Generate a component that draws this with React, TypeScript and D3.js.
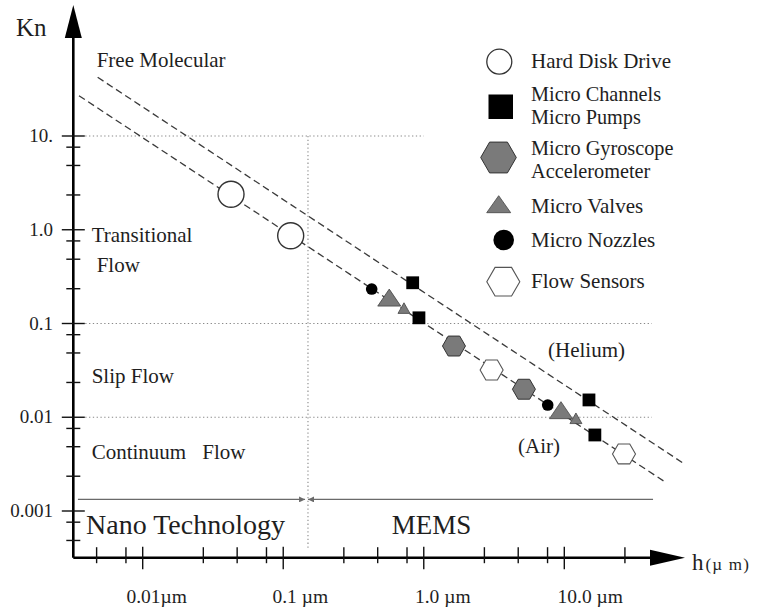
import React from "react";
import * as d3 from "d3";

// ---------- data (h in µm, Kn) ----------
const hardDiskDrive: [number, number][] = [[0.0425, 2.39], [0.113, 0.864]];
const microChannelsPumps: [number, number][] = [[0.834, 0.272], [0.924, 0.115], [14.98, 0.0153], [16.5, 0.00647]];
const microGyroscope: [number, number][] = [[1.64, 0.0575], [5.16, 0.0199]];
const microValvesLarge: [number, number][] = [[0.568, 0.189], [9.47, 0.0119]];
const microValvesSmall: [number, number][] = [[0.723, 0.146], [12.1, 0.00975]];
const microNozzles: [number, number][] = [[0.426, 0.233], [7.62, 0.0135]];
const flowSensors: [number, number][] = [[3.04, 0.0319], [26.6, 0.00406]];

const heliumLine: [number, number][] = [[0.00478, 42.3], [69.9, 0.00325]];
const airLine: [number, number][] = [[0.00352, 26.9], [52.9, 0.00201]];

const xMajorTicks = [0.01, 0.1, 1, 10];
const xTickLabels = ["0.01\u00b5m", "0.1\u00a0\u00b5m", "1.0\u00a0\u00b5m", "10.0\u00a0\u00b5m"];
const xMinorTicks = [0.0047, 0.0076, 0.027, 0.047, 0.076, 0.27, 0.47, 0.76, 2.7, 4.7, 7.6, 27];
const yMajorTicks = [0.001, 0.01, 0.1, 1, 10];
const yTickLabels = ["0.001", "0.01", "0.1", "1.0", "10."];
const yMinorTicks = [0.000485, 0.00076, 0.00235, 0.00485, 0.0076, 0.0235, 0.0485, 0.076, 0.235, 0.485, 0.76, 2.35, 4.85, 7.6];

const gridRows = [
  { kn: 10, from: 0.0039, to: 1 },
  { kn: 0.1, from: 0.0039, to: 42 },
  { kn: 0.01, from: 0.0039, to: 42 },
];
const boundaryH = 0.15; // nano / MEMS boundary
const boundaryKn = [10, 0.000384];
const rangeArrowKn = 0.00133;
const nanoRange = [0.00346, 0.143];
const memsRange = [0.15, 42.8];

const legendItems = ["Hard Disk Drive", "Micro Channels|Micro Pumps", "Micro Gyroscope|Accelerometer", "Micro Valves", "Micro Nozzles", "Flow Sensors"];

// ---------- layout ----------
const W = 764, H = 611;
const x = d3.scaleLog().domain([0.01, 10]).range([142.7, 564.3]);
const y = d3.scaleLog().domain([0.001, 10]).range([511, 136]);
const ORIGIN = { x: 73.3, y: 557.7 };
const X_TIP = 685, Y_TIP = 5;
const FONT = "'Liberation Serif', 'Times New Roman', serif";
const INK = "#1e1e1e";
const GRAY = "#7a7a7a";
const xLabelDx = [14, 17, 19, 26];

const hexPath = (r: number) => {
  const pts = d3.range(6).map(i => [r * Math.cos((Math.PI / 3) * i), r * Math.sin((Math.PI / 3) * i)]);
  return "M" + pts.map(p => p.join(",")).join("L") + "Z";
};
const triPath = (w: number, h: number) => `M0,${-h / 2}L${w / 2},${h / 2}L${-w / 2},${h / 2}Z`;

const lineGen = d3.line<[number, number]>().x(d => x(d[0])).y(d => y(d[1]));

export default function App() {
  const pt = (d: [number, number]) => `translate(${x(d[0])},${y(d[1])})`;
  return (
    <svg width={W} height={H} style={{ position: "absolute", left: 0, top: 0, background: "#fff" }} fontFamily={FONT}>
      {/* grid */}
      {gridRows.map((g, i) => (
        <line key={"g" + i} x1={x(g.from)} x2={x(g.to)} y1={y(g.kn)} y2={y(g.kn)} stroke="#888" strokeWidth={1.1} strokeDasharray="1.3,2.5" />
      ))}
      <line x1={x(boundaryH)} x2={x(boundaryH)} y1={y(boundaryKn[0])} y2={y(boundaryKn[1])} stroke="#888" strokeWidth={1.1} strokeDasharray="1.3,2.5" />

      {/* dashed mean free path lines */}
      <path d={lineGen(heliumLine) || ""} stroke="#3a3a3a" strokeWidth={1.3} strokeDasharray="7,4" fill="none" />
      <path d={lineGen(airLine) || ""} stroke="#3a3a3a" strokeWidth={1.3} strokeDasharray="7,4" fill="none" />

      {/* axes */}
      <line x1={ORIGIN.x} x2={ORIGIN.x} y1={ORIGIN.y} y2={Y_TIP + 30} stroke="#000" strokeWidth={2.6} />
      <path d={`M${ORIGIN.x},${Y_TIP}L${ORIGIN.x + 8.5},${Y_TIP + 33}L${ORIGIN.x - 8.5},${Y_TIP + 33}Z`} fill="#000" />
      <line x1={ORIGIN.x} x2={X_TIP - 30} y1={ORIGIN.y} y2={ORIGIN.y} stroke="#000" strokeWidth={2.6} />
      <path d={`M${X_TIP},${ORIGIN.y}L${X_TIP - 35},${ORIGIN.y - 8}L${X_TIP - 35},${ORIGIN.y + 8}Z`} fill="#000" />

      {xMajorTicks.map((t, i) => (
        <g key={"xm" + i}>
          <line x1={x(t)} x2={x(t)} y1={ORIGIN.y - 11} y2={ORIGIN.y + 11.5} stroke="#111" strokeWidth={1.4} />
          <text x={x(t) + xLabelDx[i]} y={603} textAnchor="middle" fontSize={19.5} fill={INK}>{xTickLabels[i]}</text>
        </g>
      ))}
      {xMinorTicks.map((t, i) => (
        <line key={"xn" + i} x1={x(t)} x2={x(t)} y1={ORIGIN.y - 10.5} y2={ORIGIN.y + 5.5} stroke="#111" strokeWidth={1.4} />
      ))}
      {yMajorTicks.map((t, i) => (
        <g key={"ym" + i}>
          <line x1={ORIGIN.x - 11.5} x2={ORIGIN.x + 11.5} y1={y(t)} y2={y(t)} stroke="#111" strokeWidth={1.4} />
          <text x={53} y={y(t) + 6} textAnchor="end" fontSize={19} fill={INK}>{yTickLabels[i]}</text>
        </g>
      ))}
      {yMinorTicks.map((t, i) => (
        <line key={"yn" + i} x1={ORIGIN.x - 7} x2={ORIGIN.x + 7} y1={y(t)} y2={y(t)} stroke="#111" strokeWidth={1.4} />
      ))}
      <text x={16} y={36} fontSize={25} fill={INK}>Kn</text>
      <text x={692} y={570} fontSize={23} fill={INK}>h<tspan fontSize={17} dx={2} letterSpacing={1.2}>(µ m)</tspan></text>

      {/* region labels */}
      <g fontSize={21} fill={INK}>
        <text x={96.7} y={66.7}>Free Molecular</text>
        <text x={91.7} y={241.5}>Transitional</text>
        <text x={96.7} y={271.5}>Flow</text>
        <text x={91.7} y={382.5}>Slip Flow</text>
        <text x={91.7} y={459}>Continuum<tspan x={202.3}>Flow</tspan></text>
        <text x={548} y={357}>(Helium)</text>
        <text x={518} y={453}>(Air)</text>
      </g>

      {/* nano / MEMS range arrows */}
      <defs>
        <marker id="arr" viewBox="0 0 10 10" refX="10" refY="5" markerWidth="9" markerHeight="6" orient="auto-start-reverse" markerUnits="userSpaceOnUse">
          <path d="M0,0L10,5L0,10Z" fill="#6a6a6a" />
        </marker>
      </defs>
      <line x1={x(nanoRange[0])} x2={x(nanoRange[1])} y1={y(rangeArrowKn)} y2={y(rangeArrowKn)} stroke="#6a6a6a" strokeWidth={1.4} markerEnd="url(#arr)" />
      <line x1={x(memsRange[0])} x2={x(memsRange[1])} y1={y(rangeArrowKn)} y2={y(rangeArrowKn)} stroke="#6a6a6a" strokeWidth={1.4} markerStart="url(#arr)" />
      <text x={86} y={534} fontSize={28} fill={INK}>Nano Technology</text>
      <text x={391.7} y={534} fontSize={27} fill={INK}>MEMS</text>

      {/* data markers */}
      {hardDiskDrive.map((d, i) => (
        <circle key={"hd" + i} transform={pt(d)} r={13} fill="#fff" stroke="#333" strokeWidth={1.4} />
      ))}
      {microGyroscope.map((d, i) => (
        <path key={"gy" + i} transform={pt(d)} d={hexPath(11.5)} fill={GRAY} stroke="#333" strokeWidth={1} />
      ))}
      {flowSensors.map((d, i) => (
        <path key={"fs" + i} transform={pt(d)} d={hexPath(11.5)} fill="#fff" stroke="#555" strokeWidth={1.1} />
      ))}
      {microNozzles.map((d, i) => (
        <circle key={"mn" + i} transform={pt(d)} r={5.8} fill="#000" />
      ))}
      {microValvesLarge.map((d, i) => (
        <path key={"vl" + i} transform={pt(d)} d={triPath(23, 17)} fill={GRAY} stroke="#444" strokeWidth={0.8} />
      ))}
      {microValvesSmall.map((d, i) => (
        <path key={"vs" + i} transform={pt(d)} d={triPath(12, 10.6)} fill={GRAY} stroke="#444" strokeWidth={0.8} />
      ))}
      {microChannelsPumps.map((d, i) => (
        <rect key={"mc" + i} transform={pt(d)} x={-6.4} y={-6.4} width={12.8} height={12.8} fill="#000" />
      ))}

      {/* legend */}
      <g fontSize={21} fill={INK}>
        <circle cx={499.3} cy={61.7} r={12.5} fill="#fff" stroke="#333" strokeWidth={1.3} />
        <text x={531} y={68}>{legendItems[0]}</text>
        <rect x={488.5} y={94.5} width={24.5} height={24.5} fill="#000" />
        <text x={531} y={101.3} fontSize={20.3}>{legendItems[1].split("|")[0]}</text>
        <text x={531} y={124.3} fontSize={20.3}>{legendItems[1].split("|")[1]}</text>
        <path transform="translate(498.5,157.5)" d={hexPath(17.8)} fill={GRAY} stroke="#333" strokeWidth={1} />
        <text x={531} y={154.5} fontSize={20.3}>{legendItems[2].split("|")[0]}</text>
        <text x={531} y={177.5} fontSize={20.3}>{legendItems[2].split("|")[1]}</text>
        <path transform="translate(498.7,204.2)" d={triPath(24, 17)} fill={GRAY} stroke="#444" strokeWidth={0.8} />
        <text x={531} y={212.7}>{legendItems[3]}</text>
        <circle cx={503.7} cy={240} r={10.3} fill="#000" />
        <text x={531} y={246.7}>{legendItems[4]}</text>
        <path transform="translate(503.3,281.7)" d={hexPath(16.5)} fill="#fff" stroke="#555" strokeWidth={1.1} />
        <text x={531} y={288.3}>{legendItems[5]}</text>
      </g>
    </svg>
  );
}
